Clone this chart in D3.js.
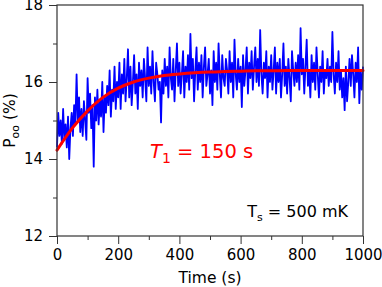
<html>
<head>
<script src="https://d3js.org/d3.v7.min.js"></script>
<style>
    body { margin: 0; background-color: #fff; }
    text { font-family: 'DejaVu Sans', sans-serif; }
</style>
</head>
<body>
<svg width="382" height="287"></svg>
<script type="text/javascript">
    // measured population, one point every 4 s from 0 to 1000 s
    var timeStep = 4;
    var pValues = [
        14.3, 15.2, 14.6, 15.0, 14.4, 15.3, 14.5, 14.9, 14.3, 15.1,
        14.0, 14.8, 15.2, 14.6, 15.4, 14.9, 16.2, 15.0, 15.6, 14.7,
        15.3, 14.6, 15.5, 15.0, 14.5, 16.1, 15.2, 15.7, 14.8, 15.4,
        13.8, 15.6, 15.0, 15.8, 14.9, 15.5, 15.1, 16.0, 14.7, 15.6,
        15.2, 15.9, 15.4, 16.3, 15.1, 15.8, 15.5, 16.4, 15.3, 16.0,
        15.6, 16.5, 15.3, 16.2, 15.7, 16.6, 15.5, 16.1, 16.85, 15.6,
        16.4, 15.4, 16.0, 16.7, 15.7, 16.2, 15.3, 16.5, 15.9, 16.3,
        15.6, 16.6, 16.1, 15.5, 16.9, 15.9, 16.4, 15.7, 16.8, 16.0,
        15.5, 16.5, 16.2, 15.8, 16.0, 14.95, 16.3, 15.7, 16.6, 15.9,
        16.4, 15.6, 16.9, 16.1, 15.8, 16.6, 15.5, 16.3, 17.0, 15.9,
        16.5, 15.7, 16.2, 16.8, 15.6, 16.4, 16.0, 16.7, 15.8, 17.25,
        16.1, 16.6, 15.5, 16.3, 16.9, 15.8, 16.5, 16.0, 16.7, 15.6,
        16.4, 16.9, 15.9, 16.2, 16.6, 15.7, 16.3, 15.4, 16.8, 16.0,
        16.5, 15.8, 17.0, 16.2, 15.6, 16.7, 16.1, 15.9, 16.6, 16.3,
        15.7, 16.8, 16.0, 16.5, 15.6, 17.1, 16.2, 15.8, 16.6, 16.0,
        16.4, 15.35, 16.7, 15.9, 16.3, 16.9, 15.7, 16.5, 16.1, 16.8,
        15.8, 16.4, 16.9, 16.0, 16.6, 15.9, 17.35, 16.2, 15.7, 16.5,
        16.1, 16.8, 15.6, 16.4, 16.0, 16.7, 15.8, 16.3, 16.9, 15.7,
        16.5, 16.0, 16.6, 15.6, 16.2, 17.0, 15.9, 16.4, 15.7, 16.6,
        16.1, 15.5, 16.8, 16.3, 15.9, 16.5, 16.0, 16.7, 15.8, 17.4,
        16.2, 16.6, 15.7, 16.4, 17.1, 15.9, 16.3, 15.6, 16.7, 16.0,
        16.5, 15.8, 16.9, 16.2, 15.6, 16.4, 16.0, 16.8, 15.7, 16.3,
        16.1, 16.6, 15.9, 16.4, 16.0, 17.3, 16.2, 15.7, 16.5, 16.0,
        16.8, 15.8, 16.3, 15.6, 16.1, 15.27, 16.4, 15.5, 16.0, 16.6,
        15.9, 16.7, 16.2, 15.6, 16.5, 16.0, 16.9, 15.45, 16.3, 15.8,
        16.4
    ];

    // fitted relaxation curve, read every 50 s
    var fitTimes = [0, 50, 100, 150, 200, 250, 300, 350, 400, 450, 500,
                    550, 600, 650, 700, 750, 800, 850, 900, 950, 1000];
    var fitValues = [14.23, 14.8, 15.25, 15.6, 15.84, 16.0, 16.1, 16.17, 16.21, 16.24, 16.26,
                     16.27, 16.28, 16.29, 16.29, 16.3, 16.3, 16.3, 16.3, 16.3, 16.3];

    var xMajor = [0, 200, 400, 600, 800, 1000];
    var xMinor = [100, 300, 500, 700, 900];
    var yMajor = [12, 14, 16, 18];
    var yMinor = [13, 15, 17];

    var svg = d3.select("svg"),
        margin = {top: 5, right: 19, bottom: 51, left: 57},
        width = +svg.attr("width") - margin.left - margin.right,
        height = +svg.attr("height") - margin.top - margin.bottom,
        g = svg.append("g").attr("transform", "translate(" + margin.left + "," + margin.top + ")");

    var x = d3.scaleLinear().domain([0, 1000]).range([0, width]);
    var y = d3.scaleLinear().domain([12, 18]).range([height, 0]);

    var axisColor = "#333";

    // minor ticks first, then major ticks with labels
    g.append("g")
        .attr("transform", "translate(0," + height + ")")
        .call(d3.axisBottom(x).tickValues(xMinor).tickSize(4).tickFormat(""))
        .call(function(a) { a.select(".domain").remove(); a.selectAll("line").attr("stroke", axisColor); });
    g.append("g")
        .call(d3.axisLeft(y).tickValues(yMinor).tickSize(4).tickFormat(""))
        .call(function(a) { a.select(".domain").remove(); a.selectAll("line").attr("stroke", axisColor); });

    g.append("g")
        .attr("transform", "translate(0," + height + ")")
        .call(d3.axisBottom(x).tickValues(xMajor).tickSize(8).tickPadding(5).tickFormat(d3.format("d")))
        .call(function(a) {
            a.select(".domain").remove();
            a.selectAll("line").attr("stroke", axisColor);
            a.selectAll("text").style("font", "15px 'DejaVu Sans'").attr("fill", "#000");
        });
    g.append("g")
        .call(d3.axisLeft(y).tickValues(yMajor).tickSize(8).tickPadding(6).tickFormat(d3.format("d")))
        .call(function(a) {
            a.select(".domain").remove();
            a.selectAll("line").attr("stroke", axisColor);
            a.selectAll("text").style("font", "15px 'DejaVu Sans'").attr("fill", "#000");
        });

    var line = d3.line()
        .x(function(d, i) { return x(i * timeStep); })
        .y(function(d) { return y(d); });

    g.append("path")
        .datum(pValues)
        .attr("fill", "none")
        .attr("stroke", "#0000ff")
        .attr("stroke-width", 1.8)
        .attr("stroke-linejoin", "round")
        .attr("d", line);

    var fitLine = d3.line()
        .curve(d3.curveMonotoneX)
        .x(function(d, i) { return x(fitTimes[i]); })
        .y(function(d) { return y(d); });

    g.append("path")
        .datum(fitValues)
        .attr("fill", "none")
        .attr("stroke", "#ff0000")
        .attr("stroke-width", 3)
        .attr("stroke-linecap", "round")
        .attr("d", fitLine);

    // frame
    g.append("rect")
        .attr("width", width)
        .attr("height", height)
        .attr("fill", "none")
        .attr("stroke", axisColor)
        .attr("stroke-width", 1.2);

    // axis titles
    svg.append("text")
        .attr("x", margin.left + width / 2)
        .attr("y", 283)
        .attr("text-anchor", "middle")
        .style("font", "15.5px 'DejaVu Sans'")
        .text("Time (s)");

    var yt = svg.append("text")
        .attr("transform", "translate(15," + (margin.top + height / 2) + ") rotate(-90)")
        .attr("text-anchor", "middle")
        .style("font", "15.5px 'DejaVu Sans'");
    yt.append("tspan").text("P");
    yt.append("tspan").attr("dy", 4).style("font-size", "11px").text("oo");
    yt.append("tspan").attr("dy", -4).text(" (%)");

    // annotations
    var t1 = svg.append("text")
        .attr("x", 150)
        .attr("y", 158)
        .attr("fill", "#ff0000")
        .style("font", "19.5px 'DejaVu Sans'");
    t1.append("tspan").style("font-style", "italic").text("T");
    t1.append("tspan").attr("dy", 5).style("font-size", "14px").text("1");
    t1.append("tspan").attr("dy", -5).text(" = 150 s");

    var ts = svg.append("text")
        .attr("x", 348)
        .attr("y", 217)
        .attr("text-anchor", "end")
        .style("font", "16px 'DejaVu Sans'");
    ts.append("tspan").text("T");
    ts.append("tspan").attr("dy", 4).style("font-size", "11px").text("s");
    ts.append("tspan").attr("dy", -4).text(" = 500 mK");
</script>
</body>
</html>
